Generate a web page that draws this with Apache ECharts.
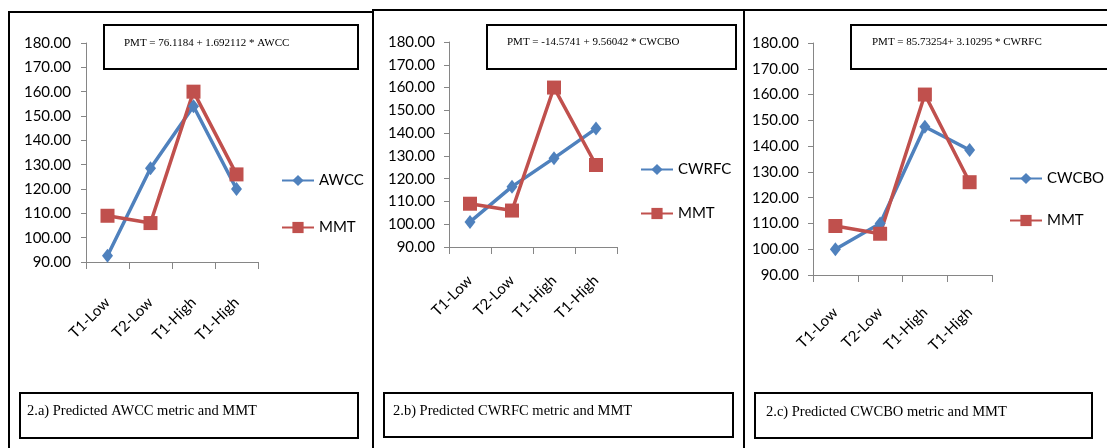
<!DOCTYPE html>
<html>
<head>
<meta charset="utf-8">
<title>Predicted metrics and MMT</title>
<script src="https://cdn.jsdelivr.net/npm/echarts@6/dist/echarts.min.js"></script>
<style>
  html, body { margin: 0; padding: 0; background: #fff; }
  #main { width: 1107px; height: 448px; }
</style>
</head>
<body>
<div id="main"></div>
<script>
// chart data
var categories = ['T1-Low', 'T2-Low', 'T1-High', 'T1-High'];
var mmt = [109, 106, 160, 126];
var awcc = [92.6, 128.5, 154, 120];
var cwrfc = [101, 116.5, 129, 142];
var cwcbo = [100, 110, 147.5, 138.5];
var metricNames = ['AWCC', 'CWRFC', 'CWCBO'];
var equations = [
  'PMT = 76.1184 + 1.692112 * AWCC',
  'PMT = -14.5741 + 9.56042 * CWCBO',
  'PMT = 85.73254+ 3.10295 * CWRFC'
];
var captions = [
  '2.a) Predicted AWCC metric and MMT',
  '2.b) Predicted CWRFC metric and MMT',
  '2.c) Predicted CWCBO metric and MMT'
];
var yMin = 90, yMax = 180, yStep = 10;

var metrics = [awcc, cwrfc, cwcbo];

// layout of the three panels
var panels = [
  { grid: { left: 86, top: 43, width: 172, height: 219 }, labelMargin: 38,
    legend: { left: 281, top: 173 }, legendGap: 32,
    border: [9, 12, 364, 450], eq: [104, 25, 254, 44], eqText: [124, 43],
    cap: [20, 393, 338, 45], capText: [27, 411] },
  { grid: { left: 449, top: 42, width: 168, height: 205 }, labelMargin: 31,
    legend: { left: 640, top: 162 }, legendGap: 29,
    border: [373, 10, 371, 450], eq: [487, 25, 249, 44], eqText: [507, 42],
    cap: [384, 393, 349, 44], capText: [393, 411] },
  { grid: { left: 813, top: 43, width: 179, height: 232 }, labelMargin: 35,
    legend: { left: 1009, top: 171 }, legendGap: 27,
    border: [744, 10, 380, 450], eq: [851, 25, 270, 44], eqText: [872, 42],
    cap: [755, 393, 337, 45], capText: [766, 412] }
];

var blue = '#4F81BD', red = '#C0504D';
var axisGray = '#868686';

var grids = [], xAxes = [], yAxes = [], series = [], legends = [], graphics = [];

panels.forEach(function (p, i) {
  grids.push(Object.assign({ outerBoundsMode: 'none', containLabel: false }, p.grid));
  xAxes.push({
    type: 'category', gridIndex: i, data: categories, boundaryGap: true,
    axisLine: { lineStyle: { color: axisGray } },
    axisTick: { show: true, length: 7, lineStyle: { color: axisGray } },
    axisLabel: { rotate: 45, margin: p.labelMargin, interval: 0, color: '#000',
      fontFamily: 'Lato', fontSize: 15 }
  });
  yAxes.push({
    type: 'value', gridIndex: i, min: yMin, max: yMax, interval: yStep,
    splitLine: { show: false },
    axisLine: { show: true, lineStyle: { color: axisGray } },
    axisTick: { show: true, length: 5, lineStyle: { color: axisGray } },
    axisLabel: { color: '#000', fontFamily: 'Lato', fontSize: 15, margin: i === 0 ? 15 : 14,
      formatter: function (v) { return v.toFixed(2); } }
  });
  series.push({
    name: metricNames[i], type: 'line', xAxisIndex: i, yAxisIndex: i,
    data: metrics[i], symbol: 'diamond', symbolSize: [11, 14],
    lineStyle: { color: blue, width: 3.5 }, itemStyle: { color: blue },
    animation: false
  });
  series.push({
    name: 'MMT' + (i > 0 ? ' ' + i : ''), type: 'line', xAxisIndex: i, yAxisIndex: i,
    data: mmt, symbol: 'rect', symbolSize: 14,
    lineStyle: { color: red, width: 3.5 }, itemStyle: { color: red },
    animation: false
  });
  legends.push({
    left: p.legend.left, top: p.legend.top, orient: 'vertical', padding: 0,
    itemWidth: 32, itemHeight: 14, itemGap: p.legendGap,
    data: [metricNames[i], 'MMT' + (i > 0 ? ' ' + i : '')],
    formatter: function (n) { return n.split(' ')[0]; },
    textStyle: { color: '#000', fontFamily: 'Lato', fontSize: 15 }
  });

  // panel border, equation box and caption box
  graphics.push({ type: 'rect', z: -10,
    shape: { x: p.border[0], y: p.border[1], width: p.border[2], height: p.border[3] },
    style: { fill: 'none', stroke: '#000', lineWidth: 2 } });
  graphics.push({ type: 'rect',
    shape: { x: p.eq[0], y: p.eq[1], width: p.eq[2], height: p.eq[3] },
    style: { fill: '#fff', stroke: '#000', lineWidth: 2 } });
  graphics.push({ type: 'text', x: p.eqText[0], y: p.eqText[1],
    style: { text: equations[i], fill: '#000', font: '11px "Liberation Serif"',
      verticalAlign: 'middle' } });
  graphics.push({ type: 'rect',
    shape: { x: p.cap[0], y: p.cap[1], width: p.cap[2], height: p.cap[3] },
    style: { fill: '#fff', stroke: '#000', lineWidth: 2 } });
  graphics.push({ type: 'text', x: p.capText[0], y: p.capText[1],
    style: { text: captions[i], fill: '#000', font: '14.5px "Liberation Serif"',
      verticalAlign: 'middle' } });
});

var myChart = echarts.init(document.getElementById('main'), null, { renderer: 'canvas' });
myChart.setOption({
  backgroundColor: '#fff',
  animation: false,
  grid: grids,
  xAxis: xAxes,
  yAxis: yAxes,
  legend: legends,
  series: series,
  graphic: graphics
});
</script>
</body>
</html>
